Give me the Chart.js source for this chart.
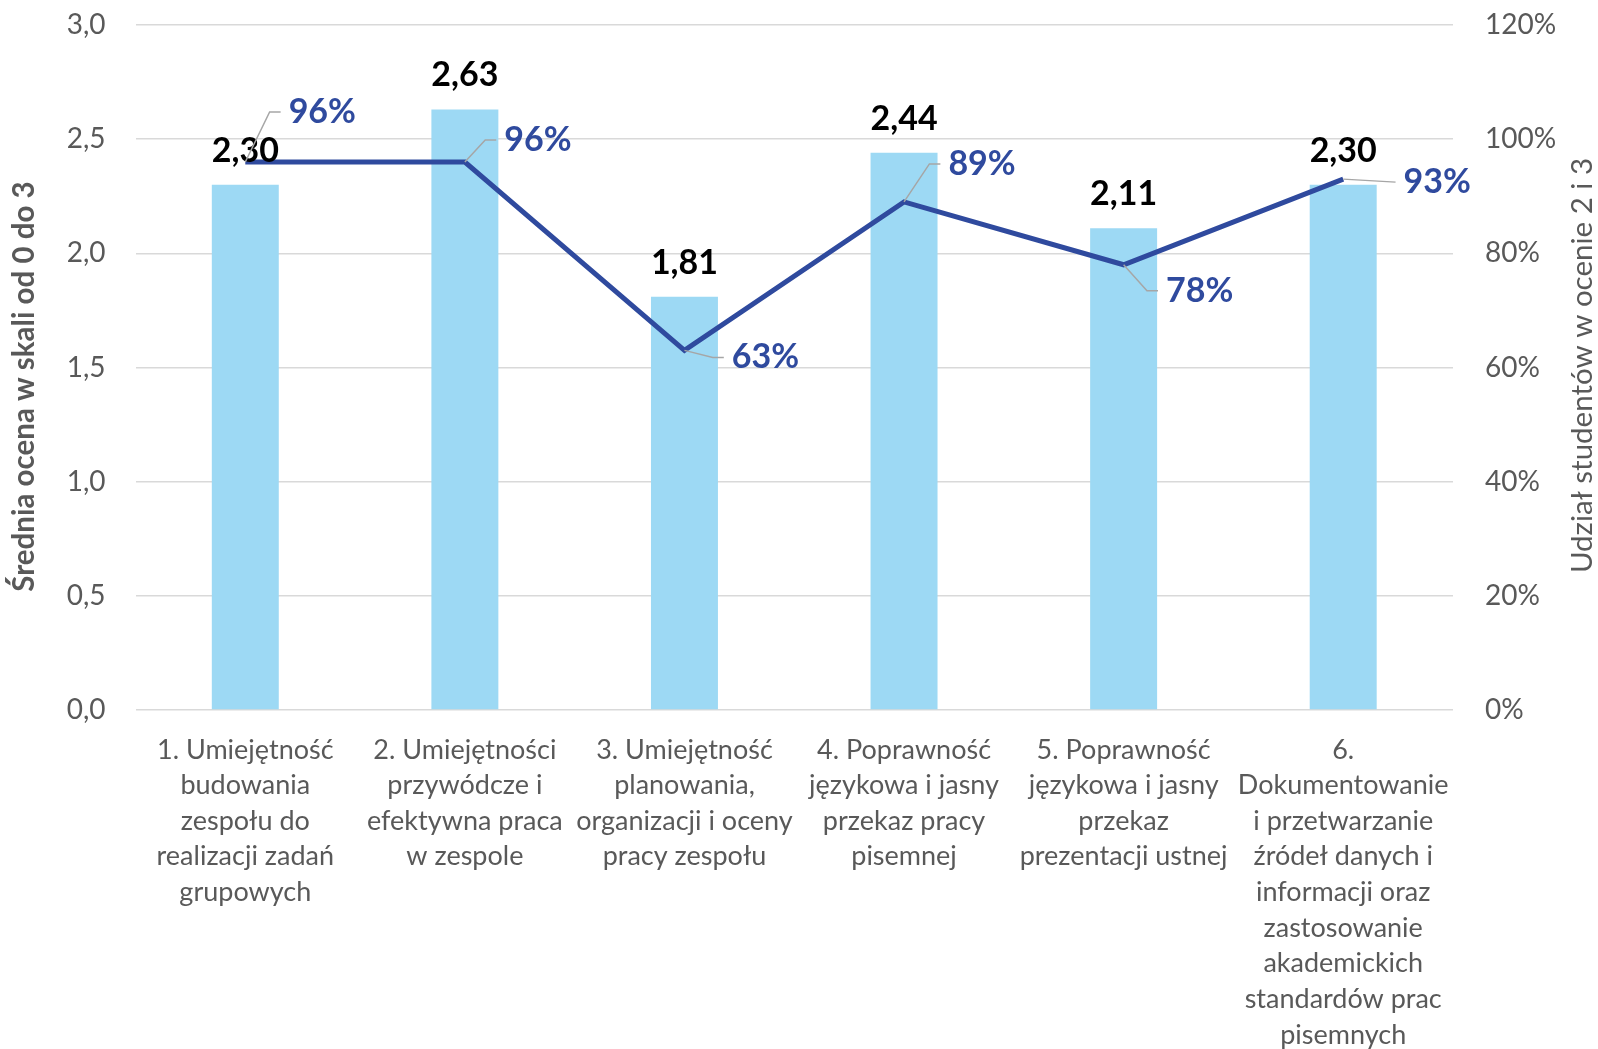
<!DOCTYPE html>
<html lang="pl">
<head>
<meta charset="utf-8">
<title>Umiejętności zespołowe</title>
<script src="https://cdn.jsdelivr.net/npm/chart.js@4/dist/chart.umd.min.js"></script>
<style>
  html, body { margin: 0; padding: 0; background: #fff; }
  #wrap { width: 1598px; height: 1049px; }
</style>
</head>
<body>
<div id="wrap"><canvas id="wykres" width="1598" height="1049"></canvas></div>
<script>
// DANE
const kategorie = [
    ['1. Umiejętność', 'budowania', 'zespołu do', 'realizacji zadań', 'grupowych'],
    ['2. Umiejętności', 'przywódcze i', 'efektywna praca', 'w zespole'],
    ['3. Umiejętność', 'planowania,', 'organizacji i oceny', 'pracy zespołu'],
    ['4. Poprawność', 'językowa i jasny', 'przekaz pracy', 'pisemnej'],
    ['5. Poprawność', 'językowa i jasny', 'przekaz', 'prezentacji ustnej'],
    ['6.', 'Dokumentowanie', 'i przetwarzanie', 'źródeł danych i', 'informacji oraz', 'zastosowanie', 'akademickich', 'standardów prac', 'pisemnych']
];
const srednieOceny = [2.30, 2.63, 1.81, 2.44, 2.11, 2.30];
const udzialStudentow = [96, 96, 63, 89, 78, 93];
const ticksLewa = [0, 0.5, 1, 1.5, 2, 2.5, 3];
const ticksPrawa = [0, 20, 40, 60, 80, 100, 120];

// przesunięcia etykiet procentowych względem punktu (dx, dy)
const przesunieciaEtykiet = [[77, -50], [73, -22], [81, 7], [78, -38], [76, 26], [94, 3]];

const FONT = 'Lato, "Open Sans", sans-serif';
const SZARY = '#595959';
const NIEBIESKI = '#2F4A9E';

const przecinek = v => v.toFixed(1).replace('.', ',');

// ETYKIETY DANYCH + TYTUŁY OSI
const etykiety = {
    id: 'etykiety',
    afterDatasetsDraw(chart) {
        const ctx = chart.ctx;
        ctx.save();

        // wartości nad słupkami
        ctx.font = 'bold 34px ' + FONT;
        ctx.fillStyle = '#000';
        ctx.textAlign = 'center';
        ctx.textBaseline = 'middle';
        chart.getDatasetMeta(0).data.forEach((bar, i) => {
            ctx.fillText(srednieOceny[i].toFixed(2).replace('.', ','), bar.x, bar.y - 34);
        });

        // procenty przy linii z linią odniesienia
        chart.getDatasetMeta(1).data.forEach((pt, i) => {
            const [dx, dy] = przesunieciaEtykiet[i];
            const tekst = udzialStudentow[i] + '%';
            const cx = pt.x + dx, cy = pt.y + dy;
            const w = ctx.measureText(tekst).width;
            const koniec = cx - w / 2 - 8;
            const kolano = koniec - 11;
            ctx.strokeStyle = '#A6A6A6';
            ctx.lineWidth = 1.5;
            ctx.beginPath();
            ctx.moveTo(pt.x, pt.y);
            if (Math.abs(dy) > 6) ctx.lineTo(kolano, cy);
            ctx.lineTo(koniec, cy);
            ctx.stroke();
            ctx.fillStyle = NIEBIESKI;
            ctx.fillText(tekst, cx, cy);
        });

        // tytuły osi
        const srodek = (chart.chartArea.top + chart.chartArea.bottom) / 2;
        ctx.fillStyle = SZARY;
        ctx.save();
        ctx.translate(24, srodek + 19);
        ctx.rotate(-Math.PI / 2);
        ctx.font = 'bold 29.5px ' + FONT;
        ctx.fillText('Średnia ocena w skali od 0 do 3', 0, 0);
        ctx.restore();
        ctx.save();
        ctx.translate(1582, srodek - 2);
        ctx.rotate(-Math.PI / 2);
        ctx.font = '29.5px ' + FONT;
        ctx.fillText('Udział studentów w ocenie 2 i 3', 0, 0);
        ctx.restore();

        ctx.restore();
    }
};

function bezPaddingu(s) {
    s.paddingTop = 0;
    s.paddingBottom = 0;
}

// WYKRES
const ctx = document.getElementById('wykres').getContext('2d');
new Chart(ctx, {
    type: 'bar',
    data: {
        labels: kategorie,
        datasets: [
            {
                type: 'bar',
                label: 'Średnia ocena',
                data: srednieOceny,
                backgroundColor: '#9DD9F4',
                barPercentage: 0.305,
                categoryPercentage: 1,
                yAxisID: 'y',
                order: 2
            },
            {
                type: 'line',
                label: 'Udział studentów',
                data: udzialStudentow,
                borderColor: NIEBIESKI,
                borderWidth: 5,
                pointRadius: 0,
                tension: 0,
                yAxisID: 'y1',
                order: 1
            }
        ]
    },
    options: {
        responsive: false,
        animation: false,
        layout: { padding: { top: 25, left: 0, right: 0, bottom: 0 } },
        plugins: {
            legend: { display: false },
            tooltip: { enabled: false }
        },
        scales: {
            x: {
                grid: { display: false },
                border: { display: false },
                ticks: {
                    color: SZARY,
                    font: { family: FONT, size: 27, lineHeight: 1.32 },
                    padding: 14,
                    autoSkip: false,
                    maxRotation: 0,
                    minRotation: 0
                },
                afterFit(s) { s.height = 339; }
            },
            y: {
                position: 'left',
                min: 0,
                max: 3,
                afterBuildTicks(s) { s.ticks = ticksLewa.map(v => ({ value: v })); },
                grid: { color: '#D9D9D9', lineWidth: 1.5, drawTicks: false },
                border: { display: false },
                ticks: {
                    color: SZARY,
                    font: { family: FONT, size: 28 },
                    padding: 30,
                    callback: v => przecinek(v)
                },
                afterFit(s) { s.width = 135.5; bezPaddingu(s); }
            },
            y1: {
                position: 'right',
                min: 0,
                max: 120,
                afterBuildTicks(s) { s.ticks = ticksPrawa.map(v => ({ value: v })); },
                grid: { display: false, drawTicks: false },
                border: { display: false },
                ticks: {
                    color: SZARY,
                    font: { family: FONT, size: 28 },
                    padding: 32,
                    callback: v => v + '%'
                },
                afterFit(s) { s.width = 145; bezPaddingu(s); }
            }
        }
    },
    plugins: [etykiety]
});
</script>
</body>
</html>
